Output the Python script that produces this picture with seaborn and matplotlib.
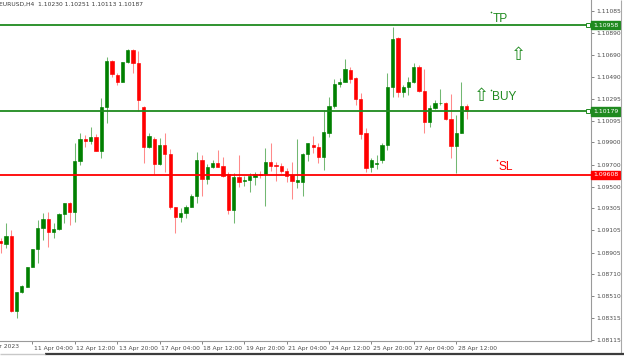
import numpy as np
import pandas as pd
import matplotlib
matplotlib.use("Agg")
import matplotlib.pyplot as plt
import seaborn as sns
from matplotlib import transforms
from matplotlib.lines import Line2D

# ---------------- data (EURUSD H4, 10 Apr 04:00 -> 28 Apr 20:00) ----------------
symbol = "EURUSD,H4"
first_time = "2023-04-10 00:00"   # slot before the first candle
opens = [1.09009, 1.08982, 1.09058, 1.08377, 1.08552, 1.08597, 1.08778, 1.08940, 1.09124, 1.09208,
         1.09091, 1.09115, 1.09253, 1.09353, 1.09271, 1.09735, 1.09930, 1.09909, 1.09951, 1.09825,
         1.10222, 1.10638, 1.10508, 1.10448, 1.10623, 1.10734, 1.10614, 1.10222, 1.09861, 1.09927,
         1.09702, 1.09876, 1.09795, 1.09313, 1.09229, 1.09259, 1.09319, 1.09419, 1.09741, 1.09566,
         1.09675, 1.09717, 1.09690, 1.09614, 1.09289, 1.09590, 1.09550, 1.09560, 1.09590, 1.09612,
         1.09614, 1.09720, 1.09692, 1.09689, 1.09644, 1.09605, 1.09545, 1.09545, 1.09795, 1.09876,
         1.09861, 1.09765, 1.09987, 1.10228, 1.10427, 1.10448, 1.10554, 1.10479, 1.10289, 1.09982,
         1.09675, 1.09708, 1.09741, 1.09876, 1.10397, 1.10840, 1.10358, 1.10403, 1.10442, 1.10583,
         1.10367, 1.10087, 1.10208, 1.10255, 1.10258, 1.10108, 1.09867, 1.09987, 1.10230]
highs = [1.09033, 1.09169, 1.09109, 1.08552, 1.08612, 1.08778, 1.08940, 1.09199, 1.09265, 1.09274,
         1.09169, 1.09265, 1.09356, 1.09365, 1.09891, 1.09982, 1.09967, 1.10036, 1.09976, 1.10298,
         1.10668, 1.10644, 1.10523, 1.10623, 1.10740, 1.10740, 1.10725, 1.10228, 1.09982, 1.09945,
         1.09936, 1.09982, 1.09837, 1.09319, 1.09304, 1.09334, 1.09431, 1.09816, 1.09786, 1.09705,
         1.09741, 1.09830, 1.09765, 1.09635, 1.09626, 1.09783, 1.09596, 1.09620, 1.09635, 1.09640,
         1.09846, 1.09892, 1.09720, 1.09711, 1.09666, 1.09720, 1.09928, 1.09801, 1.09897, 1.09958,
         1.09892, 1.10192, 1.10312, 1.10470, 1.10479, 1.10650, 1.10578, 1.10488, 1.10343, 1.10027,
         1.09756, 1.09786, 1.09892, 1.10524, 1.10945, 1.10849, 1.10418, 1.10488, 1.10619, 1.10599,
         1.10560, 1.10237, 1.10283, 1.10379, 1.10267, 1.10337, 1.10147, 1.10442, 1.10251]
lows = [1.08904, 1.08943, 1.08370, 1.08311, 1.08537, 1.08597, 1.08772, 1.08808, 1.09018, 1.08958,
        1.09033, 1.09109, 1.09169, 1.09154, 1.09184, 1.09696, 1.09861, 1.09885, 1.09822, 1.09756,
        1.10072, 1.10493, 1.10418, 1.10448, 1.10614, 1.10523, 1.10186, 1.09717, 1.09846, 1.09614,
        1.09696, 1.09635, 1.09295, 1.09085, 1.09184, 1.09214, 1.09319, 1.09349, 1.09416, 1.09524,
        1.09666, 1.09681, 1.09590, 1.09253, 1.09169, 1.09500, 1.09506, 1.09455, 1.09515, 1.09580,
        1.09325, 1.09644, 1.09551, 1.09621, 1.09545, 1.09386, 1.09485, 1.09416, 1.09734, 1.09807,
        1.09711, 1.09651, 1.09951, 1.10208, 1.10397, 1.10445, 1.10439, 1.10237, 1.09928, 1.09635,
        1.09635, 1.09657, 1.09711, 1.09831, 1.10312, 1.10312, 1.10312, 1.10328, 1.10433, 1.10358,
        1.09982, 1.10041, 1.10199, 1.10237, 1.10102, 1.09756, 1.09621, 1.09982, 1.10113]
closes = [1.08988, 1.09055, 1.08377, 1.08552, 1.08603, 1.08778, 1.08940, 1.09124, 1.09205, 1.09094,
          1.09115, 1.09253, 1.09349, 1.09271, 1.09735, 1.09933, 1.09909, 1.09951, 1.09825, 1.10222,
          1.10635, 1.10514, 1.10448, 1.10623, 1.10734, 1.10614, 1.10283, 1.09861, 1.09958, 1.09702,
          1.09876, 1.09795, 1.09313, 1.09229, 1.09265, 1.09319, 1.09419, 1.09741, 1.09566, 1.09675,
          1.09717, 1.09681, 1.09596, 1.09289, 1.09590, 1.09545, 1.09556, 1.09596, 1.09612, 1.09606,
          1.09720, 1.09689, 1.09686, 1.09644, 1.09596, 1.09551, 1.09560, 1.09795, 1.09892, 1.09861,
          1.09771, 1.09996, 1.10228, 1.10427, 1.10448, 1.10560, 1.10470, 1.10289, 1.09976, 1.09669,
          1.09741, 1.09714, 1.09876, 1.10397, 1.10833, 1.10358, 1.10403, 1.10448, 1.10583, 1.10367,
          1.10087, 1.10208, 1.10258, 1.10260, 1.10108, 1.09867, 1.09987, 1.10228, 1.10187]

level_names = ["TP", "BUY", "SL"]
level_prices = [1.10958, 1.10179, 1.09608]
level_colors = ["#1f8a1f", "#1f8a1f", "#ff0000"]

xtick_labels = ["11 Apr 04:00", "12 Apr 12:00", "13 Apr 20:00", "17 Apr 04:00", "18 Apr 12:00",
                "19 Apr 20:00", "21 Apr 04:00", "24 Apr 12:00", "25 Apr 20:00", "27 Apr 04:00",
                "28 Apr 12:00"]
first_label = "10 Apr 2023"
ytick_values = [1.11085, 1.10890, 1.10690, 1.10490, 1.10295, 1.10095, 1.09900, 1.09700,
                1.09500, 1.09305, 1.09105, 1.08905, 1.08710, 1.08510, 1.08315, 1.08115]

# chart-object anchors (bar slot, price)
text_objects = [("TP", 93.6, 1.11077, "#1f8a1f"),
                ("BUY", 93.5, 1.10373, "#1f8a1f"),
                ("SL", 94.7, 1.09741, "#ff0000")]
arrow_objects = [(98.8, 1.10693), (91.8, 1.10316)]

# ---------------- frame ----------------
times = pd.date_range(first_time, periods=200, freq="4h")
times = times[times.weekday < 5][: len(opens) + 1]
candle_times = times[1:]
pos_of = {t: i for i, t in enumerate(times)}

df = pd.DataFrame({"time": candle_times, "open": opens, "high": highs,
                   "low": lows, "close": closes})
df["pos"] = [pos_of[t] for t in df["time"]]
df["dir"] = np.where(df["close"] >= df["open"], "up", "down")

wicks = pd.concat([
    df[["pos", "dir"]].assign(price=df["high"], bar=df["pos"]),
    df[["pos", "dir"]].assign(price=df["low"], bar=df["pos"]),
])

sns.set_theme(style="white")
plt.rcParams["font.family"] = ["DejaVu Sans"]
plt.rcParams["lines.solid_capstyle"] = "butt"

W, H = 624, 357
fig = plt.figure(figsize=(W / 100, H / 100), dpi=100)
ax = fig.add_axes([0, 16 / H, 591 / W, 341 / H])
ax.set_facecolor("white")

up_c, dn_c = "#008000", "#ff0000"
sns.lineplot(data=wicks, x="pos", y="price", hue="dir", units="bar", estimator=None,
             sort=False, palette={"up": "#72b872", "down": "#ff8a8a"}, lw=0.75,
             legend=False, ax=ax)

body_lo = np.minimum(df["open"], df["close"])
body_h = (df["close"] - df["open"]).abs()
cols = np.where(df["dir"] == "up", up_c, dn_c)
ax.bar(df["pos"], body_h, bottom=body_lo, width=0.62, color=cols, edgecolor=cols,
       linewidth=0.45, zorder=3)

# level lines
for name, price, c in zip(level_names, level_prices, level_colors):
    ax.axhline(price, color=c, lw=1.3, zorder=4)
    ax.text(1.0 + 2 / 591, price, f"{price:.5f}",
            transform=transforms.blended_transform_factory(ax.transAxes, ax.transData),
            ha="left", va="center", fontsize=4.4, color="white", clip_on=False, zorder=10,
            bbox=dict(boxstyle="square,pad=0.25", fc=c, ec=c))
    if c != "#ff0000":
        ax.plot([1.0 - 3 / 591], [price], marker="s", ms=2.2, mfc="white", mec=c, mew=0.7,
                transform=transforms.blended_transform_factory(ax.transAxes, ax.transData),
                clip_on=False, zorder=6)

# chart texts
for label, xs, yp, c in text_objects:
    ax.plot([xs], [yp], marker="o", ms=1.2, color=c, mew=0, zorder=6)
    ax.annotate(label, (xs, yp), xytext=(1.0, -0.5), textcoords="offset points",
                ha="left", va="top", fontsize=8.6, color=c, family="Liberation Sans")
for xs, yp in arrow_objects:
    ax.text(xs, yp, "\u21e7", ha="center", va="center", fontsize=13, color="#1f8a1f")

# axes styling
ax.set_xlim(0.8735, 112.46)
ax.set_ylim(1.08106, 1.11186)
ax.set_xlabel("")
ax.set_ylabel("")
for s in ["left", "top"]:
    ax.spines[s].set_visible(False)
for s in ["right", "bottom"]:
    ax.spines[s].set_color("#9a9a9a")
    ax.spines[s].set_linewidth(0.8)

tick_pos = [pos_of[pd.Timestamp(pd.to_datetime(l + " 2023", format="%d %b %H:%M %Y"))]
            for l in xtick_labels]
ax.set_xticks(tick_pos)
ax.set_xticklabels(xtick_labels)
ax.tick_params(axis="x", direction="out", length=2.3, width=0.6, color="#707070",
               labelsize=4.3, labelcolor="#4a4a4a", pad=1.2, bottom=True)
off = transforms.ScaledTranslation(1.5 / 100, 0, fig.dpi_scale_trans)
for lab in ax.get_xticklabels():
    lab.set_horizontalalignment("left")
    lab.set_transform(lab.get_transform() + off)

ax.yaxis.tick_right()
ax.set_yticks(ytick_values)
ax.set_yticklabels([f"{v:.5f}" for v in ytick_values])
ax.tick_params(axis="y", direction="out", length=2.3, width=0.6, color="#707070",
               labelsize=4.3, labelcolor="#4a4a4a", pad=1.2, right=True, left=False)

ax.annotate(first_label, xy=(0, 0), xycoords="axes fraction", xytext=(19 * 0.72, -2.0),
            textcoords="offset points", ha="right", va="top", fontsize=4.3,
            color="#4a4a4a", annotation_clip=False)

title = (f"{symbol}  {opens[-1]:.5f} {highs[-1]:.5f} {lows[-1]:.5f} {closes[-1]:.5f}")
fig.text(-1 / W, 1 - 4 / H, title, ha="left", va="center", fontsize=4.3, color="#3a3a3a")

# window frame
fig.add_artist(Line2D([621 / W, 621 / W], [1 - 353 / H, 1], color="#a8a8a8", lw=0.8))
fig.add_artist(Line2D([45 / W, 1], [1 - 353.5 / H] * 2, color="#3c3c3c", lw=1.6))
fig.add_artist(Line2D([0, 45 / W], [1 - 353.5 / H] * 2, color="#c8c8c8", lw=1.0))

fig.savefig("out.png", dpi=100)
